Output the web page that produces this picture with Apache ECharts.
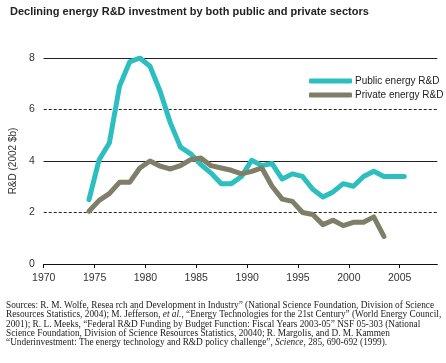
<!DOCTYPE html>
<html>
<head>
<meta charset="utf-8">
<script src="https://cdn.jsdelivr.net/npm/echarts@6/dist/echarts.min.js"></script>
<style>html,body{margin:0;padding:0;background:#fff}#c{width:446px;height:363px}</style>
</head>
<body>
<div id="c"></div>
<script>
var title = 'Declining energy R&D investment by both public and private sectors';
var yAxisName = 'R&D (2002 $b)';
var xTicks = [1970, 1975, 1980, 1985, 1990, 1995, 2000, 2005];
var yTicks = [0, 2, 4, 6, 8];
var seriesNames = ['Public energy R&D', 'Private energy R&D'];
var publicYears = [1974,1975,1976,1977,1978,1979,1980,1981,1982,1983,1984,1985,1986,1987,1988,1989,1990,1991,1992,1993,1994,1995,1996,1997,1998,1999,2000,2001,2002,2003,2004,2005];
var publicValues = [2.5,4.05,4.7,6.9,7.85,8.0,7.68,6.7,5.48,4.54,4.28,3.86,3.53,3.12,3.12,3.4,4.03,3.82,3.9,3.3,3.5,3.4,2.9,2.6,2.8,3.12,3.02,3.4,3.6,3.4,3.4,3.4];
var privateYears = [1974,1975,1976,1977,1978,1979,1980,1981,1982,1983,1984,1985,1986,1987,1988,1989,1990,1991,1992,1993,1994,1995,1996,1997,1998,1999,2000,2001,2002,2003];
var privateValues = [2.05,2.47,2.73,3.17,3.17,3.73,4.0,3.8,3.69,3.82,4.05,4.12,3.82,3.73,3.64,3.5,3.6,3.73,3.02,2.52,2.43,2.0,1.92,1.53,1.7,1.49,1.62,1.62,1.83,1.07];
var sourcesLines = [
  'Sources: R. M. Wolfe, Resea rch and Development in Industry\u201d (National Science Foundation, Division of Science',
  'Resources Statistics, 2004); M. Jefferson, {i|et al.}, \u201cEnergy Technologies for the 21st Century\u201d (World Energy Council,',
  '2001); R. L. Meeks, \u201cFederal R&D Funding by Budget Function: Fiscal Years 2003-05\u201d NSF 05-303 (National',
  'Science Foundation, Division of Science Resources Statistics, 20040; R. Margolis, and D. M. Kammen',
  '\u201cUnderinvestment: The energy technology and R&D policy challenge\u201d, {i|Science}, 285, 690-692 (1999).'
];
var yearOffset = 0.45; // annual values plotted mid-year

function pairs(xs, vs) { return xs.map(function (x, i) { return [x + yearOffset, vs[i]]; }); }

var teal = '#2dbfbf', olive = '#7f7e68';
var chart = echarts.init(document.getElementById('c'), null, {renderer: 'canvas'});
chart.setOption({
  animation: false,
  backgroundColor: '#fff',
  title: {
    text: title, left: 5, top: 1,
    textStyle: {fontFamily: 'Liberation Sans, Arial', fontSize: 11, fontWeight: 'bold', color: '#222'}
  },
  legend: {
    orient: 'vertical', left: 304, top: 70, itemWidth: 43, itemHeight: 5, itemGap: 2,
    icon: 'roundRect',
    textStyle: {fontFamily: 'Liberation Sans, Arial', fontSize: 10, color: '#222', lineHeight: 12, padding: [0,0,0,-2]},
    data: seriesNames
  },
  grid: {left: 36.7, right: 8.7, top: 58, bottom: 99},
  xAxis: {
    type: 'value', min: 1970, max: 2008.7,
    axisLine: {lineStyle: {color: '#111', width: 1}},
    axisTick: {length: 4, lineStyle: {color: '#111'}, customValues: xTicks},
    axisLabel: {customValues: xTicks, color: '#333', fontSize: 10.5, margin: 9, fontFamily: 'Liberation Sans, Arial',
      formatter: function (v) { return String(v); }},
    splitLine: {show: false}
  },
  yAxis: [{
    type: 'value', min: 0, max: 8, interval: 2,
    name: yAxisName, nameLocation: 'middle', nameGap: 21, nameRotate: 90,
    nameTextStyle: {color: '#333', fontSize: 10, fontFamily: 'Liberation Sans, Arial'},
    axisLine: {show: false}, axisTick: {show: false},
    axisLabel: {color: '#333', fontSize: 10.5, margin: 9, fontFamily: 'Liberation Sans, Arial', customValues: yTicks},
    splitLine: {show: true, lineStyle: {color: '#222', width: 1, type: [3, 2]}}
  }, {
    type: 'value', min: 0, max: 8, interval: 4, position: 'left',
    axisLine: {show: false}, axisTick: {show: false}, axisLabel: {show: false},
    splitLine: {show: true, lineStyle: {color: '#222', width: 1, type: 'solid'}}
  }],
  series: [{
    name: seriesNames[0], type: 'line', data: pairs(publicYears, publicValues), yAxisIndex: 0,
    showSymbol: false, symbol: 'none', color: teal,
    lineStyle: {color: teal, width: 5, join: 'round', cap: 'round'}, z: 3
  }, {
    name: seriesNames[1], type: 'line', data: pairs(privateYears, privateValues), yAxisIndex: 0,
    showSymbol: false, symbol: 'none', color: olive,
    lineStyle: {color: olive, width: 5, join: 'round', cap: 'round'}, z: 4
  }],
  graphic: [{
    type: 'text', left: 6, top: 301,
    style: {
      text: sourcesLines.join('\n'),
      fontFamily: 'Liberation Serif, Times New Roman, serif', fontSize: 9.3, lineHeight: 9.3, fill: '#222',
      rich: {i: {fontStyle: 'italic', fontFamily: 'Liberation Serif, serif', fontSize: 9.3, lineHeight: 9.3, fill: '#222'}}
    }
  }]
});
</script>
</body>
</html>
